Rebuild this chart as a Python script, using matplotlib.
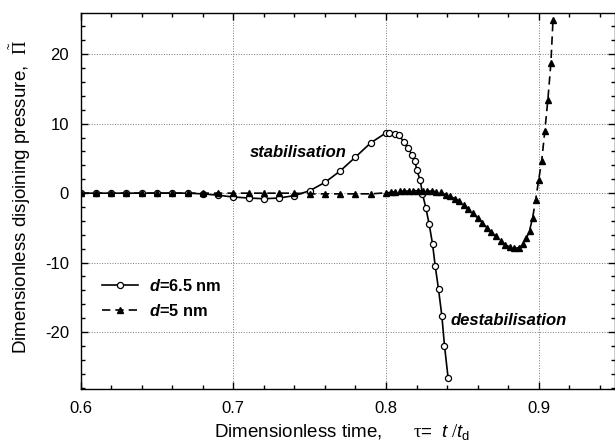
import matplotlib
matplotlib.use("Agg")
import matplotlib.pyplot as plt
from matplotlib.ticker import MultipleLocator

plt.rcParams['font.family'] = ['Liberation Sans', 'DejaVu Sans']
plt.rcParams['mathtext.fontset'] = 'custom'
plt.rcParams['mathtext.rm'] = 'Liberation Serif'
plt.rcParams['mathtext.it'] = 'Liberation Sans:italic'
plt.rcParams['mathtext.bf'] = 'Liberation Sans:bold:italic'
plt.rcParams['mathtext.sf'] = 'Liberation Sans'
plt.rcParams['axes.unicode_minus'] = False

# d = 6.5 nm (open circles, solid)
x_65 = [0.60, 0.61, 0.62, 0.63, 0.64, 0.65, 0.66, 0.67, 0.68, 0.69,
        0.70, 0.71, 0.72, 0.73, 0.74, 0.75, 0.76, 0.77, 0.78, 0.79,
        0.800, 0.8022, 0.8061, 0.8083, 0.8120, 0.8142, 0.8171, 0.8190,
        0.8201, 0.8224, 0.8239, 0.8261, 0.8283, 0.8305, 0.8322, 0.8344,
        0.8366, 0.8383, 0.8407]
y_65 = [0, 0, 0, 0, 0, 0, 0, 0, -0.1, -0.3,
        -0.55, -0.7, -0.8, -0.7, -0.35, 0.35, 1.55, 3.2, 5.2, 7.25,
        8.68, 8.68, 8.53, 8.34, 7.34, 6.49, 5.54, 4.64,
        3.36, 1.85, -0.1, -2.13, -4.5, -7.35, -10.44, -13.85,
        -17.7, -21.96, -26.65]

# d = 5 nm (filled triangles, dashed)
x_5 = [0.60, 0.61, 0.62, 0.63, 0.64, 0.65, 0.66, 0.67, 0.68, 0.69,
       0.70, 0.71, 0.72, 0.73, 0.74, 0.75, 0.76, 0.77, 0.78, 0.79,
       0.800, 0.803, 0.806, 0.809, 0.812, 0.815, 0.818, 0.821, 0.824,
       0.827, 0.830, 0.833, 0.836, 0.839, 0.842, 0.845, 0.848, 0.851,
       0.854, 0.857, 0.860, 0.863, 0.866, 0.869, 0.872, 0.875, 0.878,
       0.881, 0.884, 0.887, 0.890, 0.892, 0.894, 0.896, 0.898, 0.900,
       0.902, 0.904, 0.906, 0.908, 0.9094]
y_5 = [0, 0, 0, 0, 0, 0, 0, 0, 0, 0,
       0, 0, 0, 0, 0, -0.1, -0.1, -0.1, -0.1, -0.1,
       0.05, 0.1, 0.2, 0.25, 0.3, 0.3, 0.35, 0.35, 0.35,
       0.3, 0.3, 0.2, 0.1, -0.2, -0.45, -0.8, -1.15, -1.7,
       -2.25, -2.9, -3.55, -4.25, -4.95, -5.6, -6.2, -6.85, -7.4,
       -7.75, -7.95, -7.85, -7.3, -6.5, -5.4, -3.6, -1.0, 1.9,
       4.7, 8.9, 13.4, 18.7, 25.0]

label_65 = r'$\mathbf{d}$=6.5 nm'
label_5 = r'$\mathbf{d}$=5 nm'
x_ticks = [0.6, 0.7, 0.8, 0.9]
y_ticks = [-20, -10, 0, 10, 20]

fig = plt.figure(figsize=(6.15, 4.48), dpi=100)
ax = fig.add_axes([0.1312, 0.1317, 0.8688, 0.8386])

ax.plot(x_65, y_65, '-', color='black', lw=1.2, marker='o', ms=4.4,
        mfc='white', mec='black', mew=0.9, label=label_65, zorder=3)
ax.plot(x_5, y_5, color='black', lw=1.2, linestyle=(0, (5, 3)), marker='^',
        ms=5.0, mfc='black', mec='black', label=label_5, zorder=3)

ax.set_xlim(0.6, 0.95)
ax.set_ylim(-28.2, 25.9)
ax.set_xticks(x_ticks)
ax.set_yticks(y_ticks)
ax.set_xticklabels(['0.6', '0.7', '0.8', '0.9'])
ax.set_yticklabels(['-20', '-10', '0', '10', '20'])
ax.xaxis.set_minor_locator(MultipleLocator(0.02))
ax.yaxis.set_minor_locator(MultipleLocator(2))
ax.tick_params(which='both', direction='in', top=True, right=True,
               labelsize=12, width=1.0)
ax.tick_params(which='major', length=5, pad=8.5)
ax.tick_params(which='minor', length=3)
for s in ax.spines.values():
    s.set_linewidth(1.0)
ax.grid(True, which='major', linestyle=':', color='#777777', lw=0.7)

ax.set_xlabel(r'Dimensionless time,      $\mathrm{\tau}$=  $t\;/t_{\mathsf{d}}$',
              fontsize=13.5)
ax.xaxis.set_label_coords(0.49, -0.088)
ax.set_ylabel(r'Dimensionless disjoining pressure,  $\tilde{\Pi}$',
              fontsize=13.5)
ax.yaxis.set_label_coords(-0.09, 0.512)

ax.text(0.7745, 5.8, 'stabilisation', fontsize=12, fontweight='bold',
        fontstyle='italic', ha='right', va='center')
ax.text(0.8422, -18.4, 'destabilisation', fontsize=12, fontweight='bold',
        fontstyle='italic', ha='left', va='center')

leg = ax.legend(loc='upper left', bbox_to_anchor=(0.012, 0.335), frameon=False,
                prop={'weight': 'bold', 'size': 11.8}, handlelength=2.2,
                handletextpad=0.7, labelspacing=0.55)

fig.savefig('out.png', dpi=100)
